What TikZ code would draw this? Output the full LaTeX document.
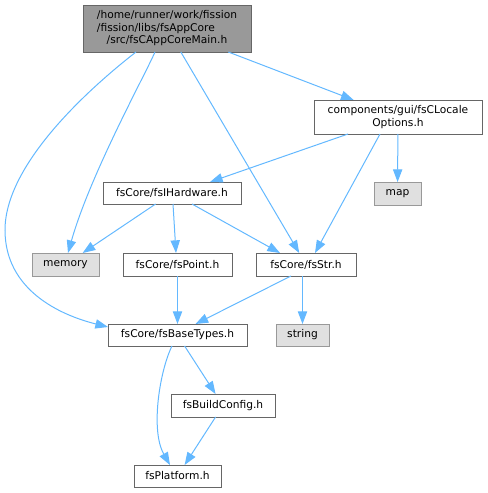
\documentclass[tikz,border=0pt]{standalone}
\usepackage{fontspec}
\setmainfont{DejaVu Sans}
\usetikzlibrary{arrows.meta,calc}
\definecolor{edgeblue}{HTML}{63B8FF}
\definecolor{boxgray}{HTML}{666666}
\definecolor{extgray}{HTML}{999999}
\definecolor{extfill}{HTML}{E0E0E0}
\begin{document}
\begin{tikzpicture}[x=0.75pt,y=-0.75pt,
  every node/.style={font=\fontsize{8}{9.4}\selectfont, inner sep=0pt, outer sep=0pt},
  filebox/.style={draw=boxgray, fill=white, line width=0.75pt, minimum width=#1*0.75pt},
  extbox/.style={draw=extgray, fill=extfill, line width=0.75pt, minimum width=#1*0.75pt},
  rowh/.style={minimum height=#1*0.75pt},
  dep/.style={draw=edgeblue, line width=0.75pt, -{Triangle[length=9.5pt,width=7pt]}}]
\useasboundingbox (0,0) rectangle (487,493);
% nodes
\node[filebox=168, rowh=47, fill=extgray] (main) at (167,28.5)
  {\begin{tabular}{@{}l@{}}/home/runner/work/fission\\/fission/libs/fsAppCore\\\multicolumn{1}{@{}c@{}}{/src/fsCAppCoreMain.h}\end{tabular}};
\node[filebox=168, rowh=34, align=center] (opts) at (398,117) {components/gui/fsCLocale\\Options.h};
\node[filebox=138, rowh=22] (hw) at (172,193) {fsCore/fsIHardware.h};
\node[extbox=47, rowh=23] (map) at (397.5,193.5) {map};
\node[extbox=67, rowh=23] (mem) at (65.5,264.5) {memory};
\node[filebox=109, rowh=23] (pt) at (177.5,264.5) {fsCore/fsPoint.h};
\node[filebox=100, rowh=23] (str) at (306,264.5) {fsCore/fsStr.h};
\node[extbox=53, rowh=22] (string) at (302.5,335) {string};
\node[filebox=139, rowh=22] (base) at (177.5,335) {fsCore/fsBaseTypes.h};
\node[filebox=104, rowh=23] (bc) at (223,405.5) {fsBuildConfig.h};
\node[filebox=87, rowh=22] (plat) at (177.5,476) {fsPlatform.h};
% edges
\draw[dep] (main) -- (opts);
\draw[dep] (main) -- (str);
\draw[dep] ($(main.south)+(-12,0)$) .. controls (145,75) and (90,175) .. ($(mem.north)+(2.5,0)$);
\draw[dep] ($(main.south)+(-31,0)$) .. controls (100,80) and (5,160) .. (5,230)
  .. controls (5,290) and (60,315) .. ($(base.west)+(0,-8)$);
\draw[dep] ($(opts.south)+(-50,0)$) -- ($(hw.north)+(38,0)$);
\draw[dep] ($(opts.south)+(-18,0)$) -- ($(str.north)+(9,0)$);
\draw[dep] (opts) -- (map);
\draw[dep] (hw) -- (mem);
\draw[dep] ($(hw.south)+(1,0)$) -- ($(pt.north)+(-1.5,0)$);
\draw[dep] ($(hw.south)+(20,0)$) -- ($(str.north)+(-26,0)$);
\draw[dep] (pt) -- (base);
\draw[dep] ($(str.south)+(-15,0)$) -- ($(base.north)+(18,0)$);
\draw[dep] (str.south -| string.north) -- (string);
\draw[dep] (base) -- (bc);
\draw[dep] ($(base.south)+(-5.5,0)$) .. controls (160,370) and (150,430) .. ($(plat.north)+(-7.5,0)$);
\draw[dep] (bc) -- (plat);
\end{tikzpicture}
\end{document}
